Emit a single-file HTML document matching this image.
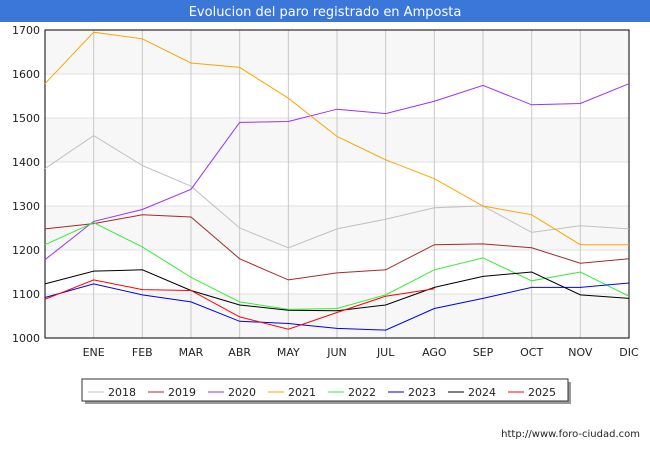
<!DOCTYPE html>
<html><head><meta charset="utf-8"><style>
body{margin:0;background:#fff;font-family:"Liberation Sans",sans-serif;}
svg text{font-family:"DejaVu Sans","Liberation Sans",sans-serif;}
</style></head><body>
<svg id="c" width="650" height="450" xmlns="http://www.w3.org/2000/svg">
<rect x="0" y="0" width="650" height="22" fill="#3a77d8"/>
<text x="325" y="16" text-anchor="middle" fill="#fff" font-size="13">Evolucion del paro registrado en Amposta</text>
<g id="grid"></g><g id="axes"></g><g id="series"></g><g id="legend"></g>
<text x="640" y="437" text-anchor="end" font-size="10" fill="#222">http://www.foro-ciudad.com</text>
</svg>
<script>
const months=["","ENE","FEB","MAR","ABR","MAY","JUN","JUL","AGO","SEP","OCT","NOV","DIC"];
const yTicks=[1000,1100,1200,1300,1400,1500,1600,1700];
const years=["2018","2019","2020","2021","2022","2023","2024","2025"];
const colors=["#c0c0c0","#a52a2a","#9b30ff","#ffa500","#33ee33","#0000ee","#000000","#ff0000"];
const s2018=[1385,1460,1392,1345,1250,1205,1248,1270,1296,1300,1240,1255,1248];
const s2019=[1248,1260,1280,1275,1180,1132,1148,1155,1212,1214,1205,1170,1180];
const s2020=[1178,1265,1292,1338,1490,1492,1520,1510,1538,1574,1530,1533,1578];
const s2021=[1578,1695,1680,1625,1615,1545,1458,1405,1362,1300,1280,1212,1212];
const s2022=[1212,1262,1207,1138,1082,1065,1067,1098,1155,1182,1130,1150,1095];
const s2023=[1092,1123,1098,1082,1038,1033,1022,1018,1067,1090,1115,1115,1125];
const s2024=[1123,1152,1155,1108,1075,1063,1062,1075,1115,1140,1150,1098,1090];
const s2025=[1088,1132,1110,1108,1048,1020,1058,1095,1112];
const allSeries=[s2018,s2019,s2020,s2021,s2022,s2023,s2024,s2025];
const NS="http://www.w3.org/2000/svg";
const X0=45,X1=629,Y0=338,Y1=30,MIN=1000,MAX=1700;
const xs=i=>X0+i*(X1-X0)/12;
const ys=v=>Y0-(v-MIN)*(Y0-Y1)/(MAX-MIN);
function mk(t,a,p){const e=document.createElementNS(NS,t);for(const k in a)e.setAttribute(k,a[k]);p.appendChild(e);return e;}
const grid=document.getElementById('grid'),axes=document.getElementById('axes'),ser=document.getElementById('series'),leg=document.getElementById('legend');
for(let i=0;i<yTicks.length-1;i++){
 if(i%2==0){const r=mk('rect',{x:X0,y:ys(yTicks[i+1]),width:X1-X0,height:ys(yTicks[i])-ys(yTicks[i+1]),fill:'#f7f7f7'},grid);
 
 }
}
yTicks.forEach(v=>{
 const l=mk('line',{x1:X0,x2:X1,y1:ys(v),y2:ys(v),stroke:'#e0e0e0'},grid);
 
 
 const t=mk('text',{x:X0-5,y:ys(v)+4,'text-anchor':'end','font-size':11,fill:'#222'},axes);t.textContent=v;
 
 
});
months.forEach((m,i)=>{
 if(i>0){const l=mk('line',{x1:xs(i),x2:xs(i),y1:Y1,y2:Y0,stroke:'#c8c8c8'},grid);
 
 }
 const t=mk('text',{x:xs(i),y:356,'text-anchor':'middle','font-size':11,fill:'#222'},axes);t.textContent=m;
 
 
});
const ax=mk('rect',{x:X0,y:Y1,width:X1-X0,height:Y0-Y1,fill:'none',stroke:'#000'},axes);


allSeries.forEach((s,k)=>{
 const p=mk('polyline',{points:s.map((v,i)=>xs(i)+','+ys(v)).join(' '),fill:'none',stroke:colors[k],'stroke-width':1},ser);
 
 
});
const sh=mk('rect',{x:85,y:382,width:486,height:22,fill:'#999'},leg);


const lb=mk('rect',{x:82,y:379,width:486,height:22,fill:'#fff',stroke:'#333'},leg);


years.forEach((y,k)=>{
 const x=88+k*60;
 const l=mk('line',{x1:x,x2:x+16,y1:392,y2:392,stroke:colors[k]},leg);
 
 
 const t=mk('text',{x:x+20,y:396,'font-size':11,fill:'#222'},leg);t.textContent=y;
 
 
});
</script>
</body></html>
